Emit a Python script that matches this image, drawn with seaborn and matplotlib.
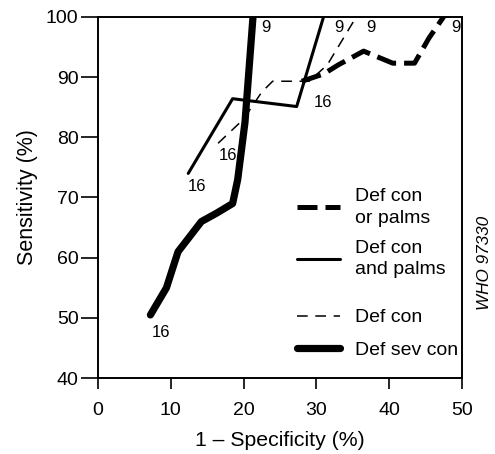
import matplotlib
matplotlib.use("Agg")
import matplotlib.pyplot as plt
from matplotlib.lines import Line2D
import seaborn as sns
import pandas as pd

# ROC-type curves (x = 1 - specificity %, y = sensitivity %)
or_palms_x = [28.0, 31.0, 33.0, 36.5, 40.5, 43.5, 45.5, 47.5]
or_palms_y = [89.3, 90.5, 92.0, 94.3, 92.3, 92.3, 96.5, 100.0]

and_palms_x = [12.4, 18.5, 27.3, 31.0]
and_palms_y = [74.0, 86.4, 85.1, 100.0]

def_con_x = [16.5, 20.0, 22.5, 24.0, 29.0, 31.5, 33.5, 35.5]
def_con_y = [79.0, 83.0, 87.5, 89.3, 89.3, 92.0, 96.0, 100.0]

sev_con_x = [7.2, 9.4, 11.0, 14.2, 16.3, 18.5, 19.2, 20.2, 21.3]
sev_con_y = [50.5, 55.0, 61.0, 66.0, 67.4, 69.0, 73.0, 82.5, 100.0]

series_names = ["Def con\nor palms", "Def con\nand palms", "Def con", "Def sev con"]

# point labels at each end of the curves
label_text = ["16", "16", "16", "16", "9", "9", "9", "9"]
label_x = [7.4, 12.4, 16.6, 29.6, 22.4, 32.4, 36.8, 48.6]
label_y = [47.6, 71.8, 77.0, 85.8, 98.3, 98.3, 98.3, 98.3]

sns.set_style("ticks")
plt.rcParams["font.family"] = ["Liberation Sans", "DejaVu Sans"]
plt.rcParams["text.color"] = "black"
plt.rcParams["axes.labelcolor"] = "black"
plt.rcParams["xtick.color"] = "black"
plt.rcParams["ytick.color"] = "black"

fig = plt.figure(figsize=(4.95, 4.54), dpi=100)
ax = fig.add_axes([0.198, 0.167, 0.735, 0.796])

styles = [
    dict(color="black", linewidth=3.6, dashes=(4.0, 1.6)),
    dict(color="black", linewidth=2.2),
    dict(color="black", linewidth=1.1, dashes=(7, 5)),
    dict(color="black", linewidth=5.2),
]
xs = [or_palms_x, and_palms_x, def_con_x, sev_con_x]
ys = [or_palms_y, and_palms_y, def_con_y, sev_con_y]

for name, x, y, st in zip(series_names, xs, ys, styles):
    df = pd.DataFrame({"x": x, "y": y})
    kw = dict(st)
    dashes = kw.pop("dashes", None)
    sns.lineplot(data=df, x="x", y="y", sort=False, ax=ax, **kw)
    if dashes is not None:
        ax.lines[-1].set_dashes(dashes)

for t, x, y in zip(label_text, label_x, label_y):
    ax.text(x, y, t, fontsize=12, ha="left", va="center")

ax.set_xlim(0, 50)
ax.set_ylim(40, 100)
ax.set_xticks(range(0, 51, 10))
ax.set_yticks(range(40, 101, 10))
ax.tick_params(axis="both", labelsize=14, width=1.2, color="black", labelcolor="black")
ax.tick_params(axis="y", length=12, pad=2)
ax.tick_params(axis="x", length=8, pad=9)
for sp in ax.spines.values():
    sp.set_visible(True)
    sp.set_linewidth(1.4)
    sp.set_color("black")
ax.set_xlabel("1 – Specificity (%)", fontsize=15.3, labelpad=9)
ax.set_ylabel("Sensitivity (%)", fontsize=15.5, labelpad=6)

handles = []
for st in styles:
    kw = dict(st)
    dashes = kw.pop("dashes", None)
    h = Line2D([], [], **kw)
    if dashes is not None:
        h.set_dashes(dashes)
    handles.append(h)

leg_kw = dict(loc="upper left", frameon=False, fontsize=14, handlelength=2.2,
              handletextpad=0.75, borderaxespad=0, borderpad=0)
leg1 = ax.legend(handles[:2], series_names[:2], bbox_to_anchor=(0.548, 0.525),
                 labelspacing=0.65, **leg_kw)
for txt in leg1.get_texts():
    txt.set_linespacing(1.35)
ax.add_artist(leg1)
ax.legend(handles[2:], series_names[2:], bbox_to_anchor=(0.548, 0.192),
          labelspacing=0.75, **leg_kw)

fig.text(0.978, 0.42, "WHO 97330", rotation=90, fontsize=12.3, style="italic",
         ha="center", va="center")

fig.savefig("out.png", dpi=100)
